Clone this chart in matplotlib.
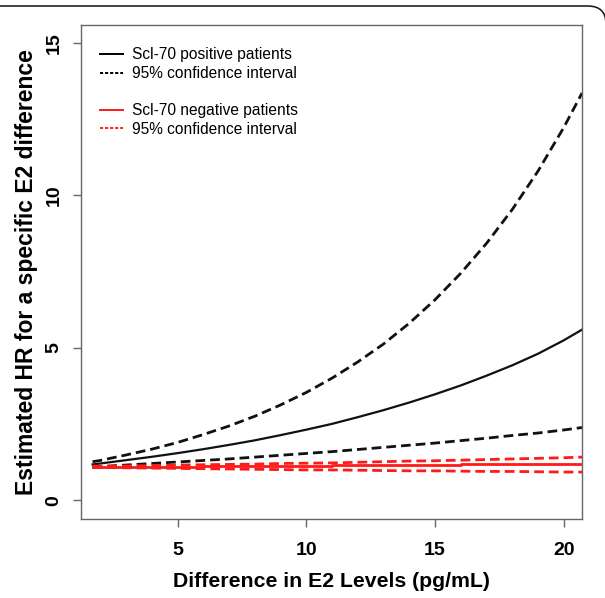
import matplotlib
matplotlib.use("Agg")
import matplotlib.pyplot as plt
from matplotlib.lines import Line2D
from matplotlib.patches import FancyBboxPatch

plt.rcParams['font.family'] = ['Liberation Sans', 'DejaVu Sans']

# E2 difference grid (pg/mL)
e2_diff = [1.7, 2, 3, 4, 5, 6, 7, 8, 9, 10, 11, 12, 13, 14, 15, 16, 17, 18, 19, 20, 20.71]

# Scl-70 positive: HR and 95% CI
pos_hr = [1.18, 1.21, 1.32, 1.43, 1.55, 1.68, 1.82, 1.97, 2.14, 2.32, 2.51,
          2.73, 2.96, 3.21, 3.48, 3.77, 4.09, 4.43, 4.81, 5.25, 5.60]
pos_upper = [1.27, 1.31, 1.49, 1.68, 1.90, 2.16, 2.44, 2.76, 3.13, 3.54, 4.01,
             4.54, 5.13, 5.81, 6.58, 7.45, 8.43, 9.54, 10.80, 12.23, 13.36]
pos_lower = [1.10, 1.11, 1.16, 1.21, 1.26, 1.31, 1.36, 1.42, 1.48, 1.54, 1.60,
             1.67, 1.74, 1.81, 1.88, 1.96, 2.04, 2.13, 2.21, 2.31, 2.39]

# Scl-70 negative: HR (stepped) and 95% CI
neg_x = [1.7, 6.0, 11.0, 16.0, 20.0, 20.71]
neg_hr = [1.10, 1.13, 1.16, 1.18, 1.20, 1.20]
neg_upper = [1.12, 1.12, 1.13, 1.14, 1.16, 1.17, 1.18, 1.19, 1.21, 1.22, 1.23,
             1.25, 1.27, 1.29, 1.30, 1.32, 1.34, 1.36, 1.38, 1.40, 1.42]
neg_lower = [1.08, 1.08, 1.07, 1.06, 1.05, 1.04, 1.03, 1.02, 1.01, 1.00, 1.00,
             0.99, 0.98, 0.97, 0.97, 0.96, 0.95, 0.95, 0.94, 0.93, 0.93]

xticks = [5, 10, 15, 20]
yticks = [0, 5, 10, 15]

fig = plt.figure(figsize=(6.05, 5.98), dpi=100)
ax = fig.add_axes([0.1334, 0.1326, 0.8291, 0.8261])

dash = (3.5, 1.8)
ax.plot(e2_diff, pos_upper, color='#111111', lw=2.0, dashes=dash)
ax.plot(e2_diff, pos_lower, color='#111111', lw=2.0, dashes=dash)
ax.plot(e2_diff, pos_hr, color='#111111', lw=1.6)
ax.plot(e2_diff, neg_upper, color='#ff1a1a', lw=2.0, dashes=dash)
ax.plot(e2_diff, neg_lower, color='#ff1a1a', lw=2.0, dashes=dash)
ax.step(neg_x, neg_hr, where='post', color='#ff1a1a', lw=2.0)

ax.set_xlim(1.24, 20.72)
ax.set_ylim(-0.6, 15.6)
ax.set_xticks(xticks)
ax.set_yticks(yticks)
ax.set_yticklabels([str(v) for v in yticks], rotation=90, va='center')

for s in ax.spines.values():
    s.set_color('#666666')
    s.set_linewidth(1.0)
ax.tick_params(axis='both', colors='#666666', length=6, width=1.0,
               labelsize=14, labelcolor='black')
ax.tick_params(axis='x', pad=11)
ax.tick_params(axis='y', pad=7)
for lab in ax.get_xticklabels() + ax.get_yticklabels():
    lab.set_fontweight('bold')

ax.set_xlabel('Difference in E2 Levels (pg/mL)', fontsize=15.3, fontweight='bold')
ax.set_ylabel('Estimated HR for a specific E2 difference', fontsize=16.5, fontweight='bold')
ax.xaxis.set_label_coords(0.5, -0.108)
ax.yaxis.set_label_coords(-0.085, 0.5)

handles = [
    Line2D([], [], color='black', lw=1.4),
    Line2D([], [], color='black', lw=1.4, dashes=(1.6, 1.0)),
    Line2D([], [], color='none'),
    Line2D([], [], color='#ff1a1a', lw=1.4),
    Line2D([], [], color='#ff1a1a', lw=1.4, dashes=(1.6, 1.0)),
]
labels = ['Scl-70 positive patients', '95% confidence interval', ' ',
          'Scl-70 negative patients', '95% confidence interval']
ax.legend(handles, labels, loc='upper left', bbox_to_anchor=(0.0385, 0.954),
          frameon=False, fontsize=11.2, handlelength=1.45, handletextpad=0.6,
          labelspacing=0.23, borderpad=0, borderaxespad=0)

# rounded panel border
border = FancyBboxPatch((-20 / 605, -20 / 598), 626 / 605, 612 / 598,
                        boxstyle='round,pad=0,rounding_size=0.03',
                        transform=fig.transFigure, fill=False,
                        edgecolor='#222222', lw=1.2, clip_on=False)
fig.patches.append(border)

fig.savefig('out.png', dpi=100)
